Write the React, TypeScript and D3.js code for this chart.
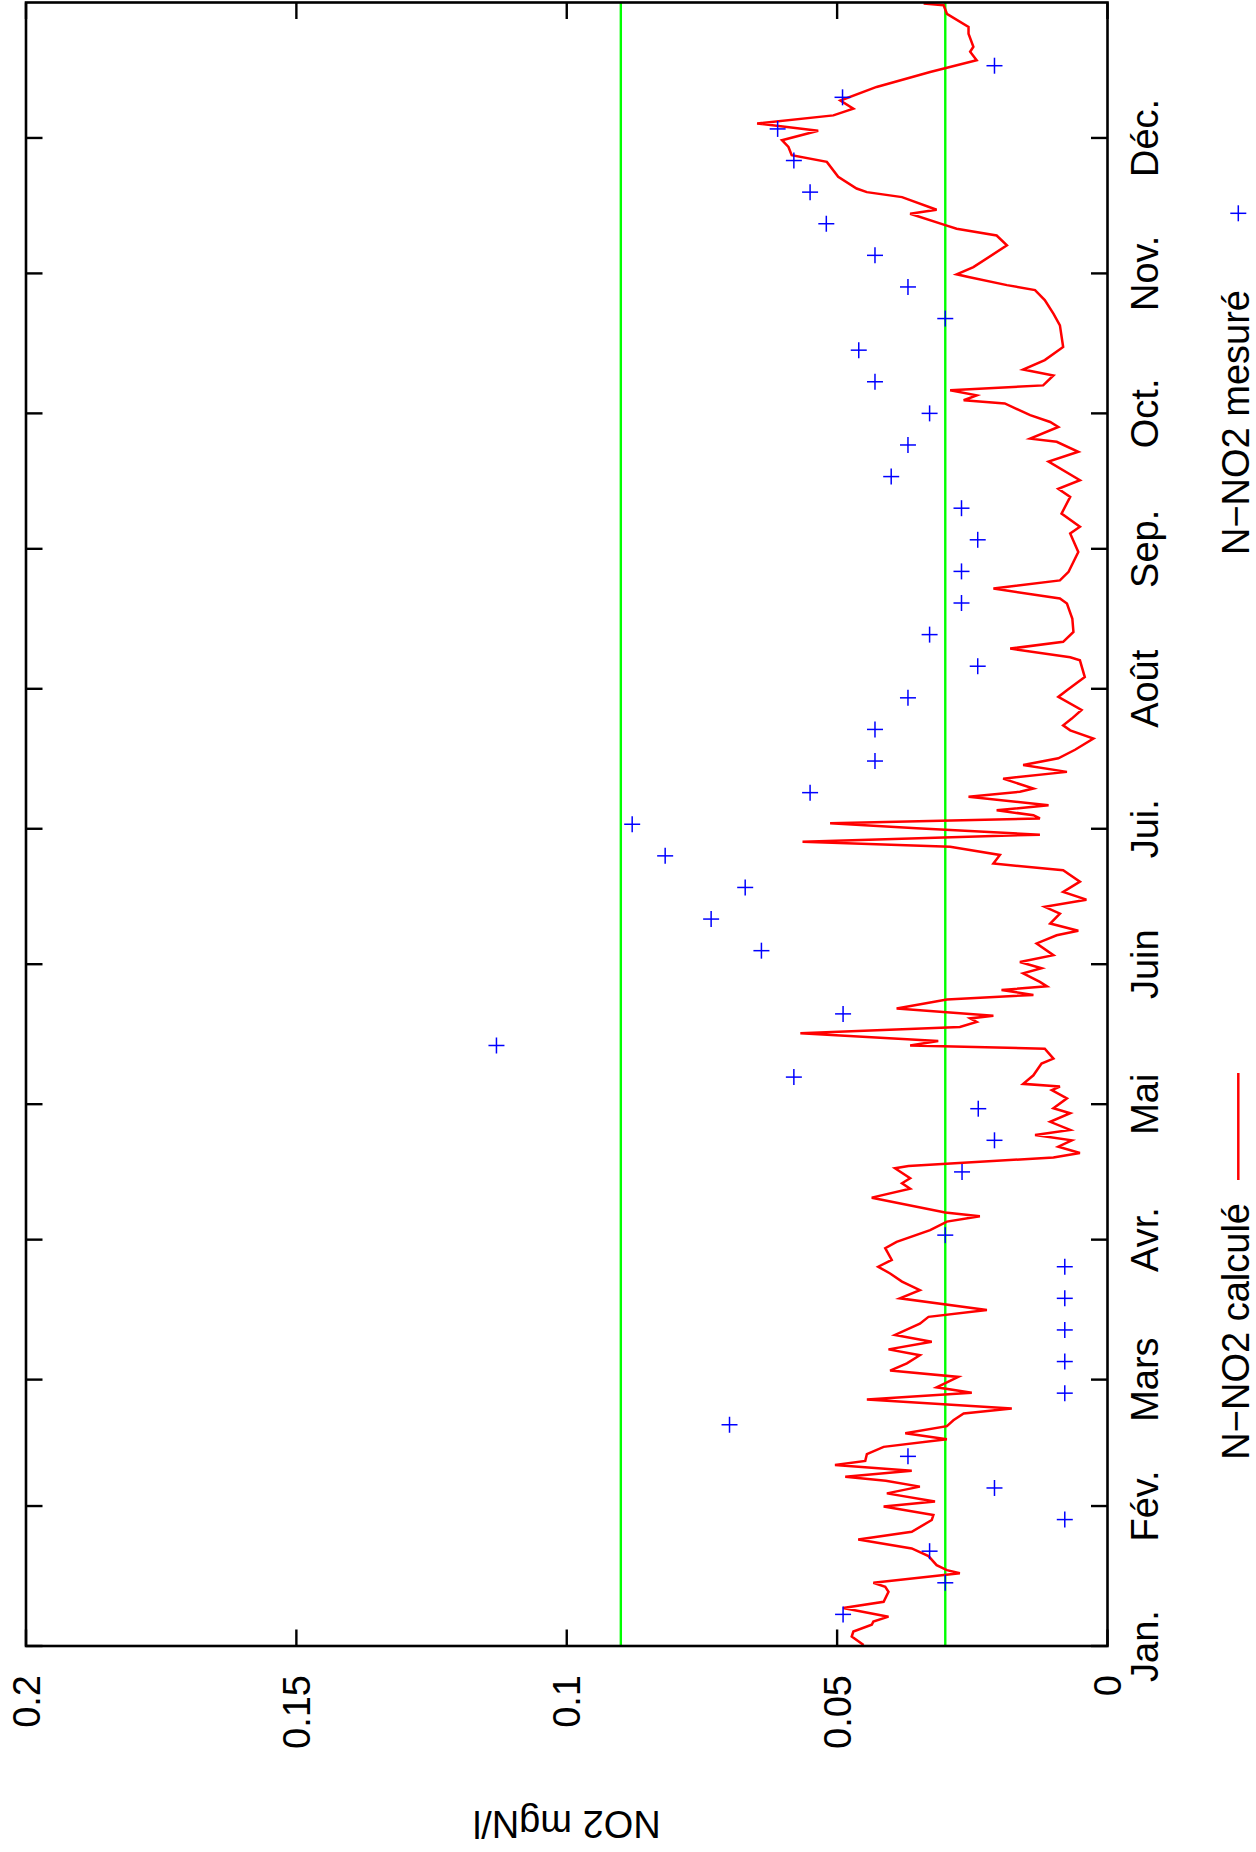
import React from 'react';
import * as d3 from 'd3';

const W = 1256;
const H = 1852;

const monthLabels = ["Jan.", "Fév.", "Mars", "Avr.", "Mai", "Juin", "Jui.", "Août", "Sep.", "Oct.", "Nov.", "Déc."];
const monthStartDays = [0, 31, 59, 90, 120, 151, 181, 212, 243, 273, 304, 334];
const valueTicks = [0, 0.05, 0.1, 0.15, 0.2];
const thresholdValues = [0.03, 0.09];
const yLabel = "NO2 mgN/l";
const seriesNames = ["N\u2212NO2 calculé", "N\u2212NO2 mesuré"];

const calcDays = [
  0.2, 2.1, 3.2, 4.7, 5.4, 6.5, 8.4, 9.8, 12.0, 13.1, 14.0, 16.1, 16.8, 17.9, 19.9, 21.6, 23.6, 25.3, 27.9, 29.0,
  30.9, 32.0, 33.8, 35.3, 36.6, 37.5, 38.8, 40.1, 41.0, 42.5, 44.1, 45.8, 47.1, 48.7, 50.0, 51.5, 52.6, 54.6, 56.1, 57.3,
  59.6, 61.0, 62.6, 64.4, 65.7, 67.4, 68.9, 71.4, 72.9, 74.4, 77.0, 78.8, 80.7, 82.5, 84.0, 85.5, 88.1, 89.5, 92.1, 94.0,
  95.2, 96.0, 99.3, 101.3, 102.5, 103.6, 105.8, 106.3, 108.2, 109.2, 110.6, 112.0, 113.2, 114.3, 116.1, 118.0, 119.1, 121.3, 123.1, 123.9,
  124.5, 126.4, 129.0, 130.1, 132.3, 133.0, 134.0, 135.7, 137.1, 138.2, 139.0, 139.6, 141.2, 143.2, 144.2, 145.3, 146.1, 147.1, 149.0, 150.1,
  151.5, 153.0, 155.6, 157.4, 158.4, 160.0, 162.2, 163.7, 165.3, 167.0, 169.3, 171.8, 173.3, 175.2, 177.0, 178.1, 179.7, 181.1, 182.2, 183.3,
  184.0, 185.1, 186.2, 188.1, 189.2, 189.9, 192.1, 193.6, 195.1, 196.6, 198.5, 201.0, 202.8, 203.9, 205.4, 207.3, 210.2, 211.7, 214.6, 218.3,
  219.0, 220.9, 222.4, 224.6, 227.5, 230.9, 232.0, 234.2, 236.0, 237.9, 242.3, 246.4, 247.9, 250.8, 254.5, 256.3, 258.2, 262.3, 264.5, 266.7,
  267.4, 270.0, 271.1, 272.6, 275.2, 275.9, 277.0, 278.1, 279.2, 281.4, 282.7, 284.8, 287.7, 292.5, 295.1, 298.1, 300.3, 301.4, 303.2, 303.8,
  305.4, 310.2, 312.4, 313.9, 314.7, 317.2, 318.1, 320.9, 322.0, 322.8, 325.4, 328.7, 330.2, 332.0, 333.5, 335.6, 337.2, 339.0, 340.5, 342.3,
  345.3, 348.6, 351.2, 353.1, 354.2, 357.1, 358.6, 361.5, 363.4, 363.8
];
const calcValues = [
  0.0451, 0.0473, 0.0470, 0.0436, 0.0433, 0.0405, 0.0489, 0.0414, 0.0405, 0.0411, 0.0433, 0.0273, 0.0297, 0.0316, 0.0331, 0.0362, 0.0461, 0.0362, 0.0325, 0.0322,
  0.0414, 0.0319, 0.0408, 0.0347, 0.0410, 0.0485, 0.0362, 0.0504, 0.0448, 0.0445, 0.0414, 0.0297, 0.0374, 0.0297, 0.0285, 0.0266, 0.0177, 0.0445, 0.0251, 0.0316,
  0.0276, 0.0402, 0.0371, 0.0347, 0.0405, 0.0325, 0.0393, 0.0347, 0.0331, 0.0223, 0.0384, 0.0347, 0.0380, 0.0402, 0.0424, 0.0399, 0.0411, 0.0390, 0.0328, 0.0297,
  0.0236, 0.0300, 0.0436, 0.0365, 0.0380, 0.0365, 0.0393, 0.0368, 0.0100, 0.0051, 0.0091, 0.0066, 0.0134, 0.0069, 0.0106, 0.0069, 0.0100, 0.0075, 0.0103, 0.0088,
  0.0156, 0.0137, 0.0122, 0.0100, 0.0116, 0.0365, 0.0313, 0.0568, 0.0273, 0.0242, 0.0254, 0.0211, 0.0390, 0.0297, 0.0137, 0.0196, 0.0112, 0.0125, 0.0156, 0.0122,
  0.0162, 0.0100, 0.0131, 0.0094, 0.0054, 0.0106, 0.0088, 0.0116, 0.0039, 0.0082, 0.0051, 0.0082, 0.0211, 0.0199, 0.0291, 0.0564, 0.0125, 0.0353, 0.0513, 0.0125,
  0.0137, 0.0205, 0.0109, 0.0257, 0.0162, 0.0137, 0.0193, 0.0075, 0.0156, 0.0091, 0.0060, 0.0026, 0.0069, 0.0082, 0.0066, 0.0048, 0.0091, 0.0075, 0.0042, 0.0051,
  0.0069, 0.0180, 0.0082, 0.0063, 0.0065, 0.0075, 0.0088, 0.0211, 0.0088, 0.0072, 0.0054, 0.0069, 0.0051, 0.0085, 0.0069, 0.0091, 0.0051, 0.0109, 0.0054, 0.0094,
  0.0143, 0.0091, 0.0106, 0.0143, 0.0190, 0.0266, 0.0242, 0.0291, 0.0119, 0.0100, 0.0156, 0.0116, 0.0082, 0.0088, 0.0100, 0.0116, 0.0134, 0.0186, 0.0257, 0.0279,
  0.0248, 0.0186, 0.0205, 0.0279, 0.0300, 0.0365, 0.0316, 0.0380, 0.0445, 0.0464, 0.0498, 0.0519, 0.0584, 0.0590, 0.0602, 0.0535, 0.0648, 0.0507, 0.0470, 0.0494,
  0.0427, 0.0328, 0.0242, 0.0254, 0.0248, 0.0257, 0.0257, 0.0297, 0.0303, 0.0340
];

const measDays = [
  7, 14, 21, 28, 35, 42, 49, 56, 63, 70, 77, 84, 91, 105, 112, 119, 126, 133, 140, 154, 161, 168, 175, 182,
  189, 196, 203, 210, 217, 224, 231, 238, 245, 252, 259, 266, 273, 280, 287, 294, 301, 308, 315, 322, 329, 336, 343, 350
];
const measValues = [
  0.0489, 0.0300, 0.0329, 0.0079, 0.0209, 0.0369, 0.0699, 0.0079, 0.0079, 0.0079, 0.0079, 0.0079, 0.0300, 0.0269, 0.0209, 0.0239, 0.0580, 0.1130, 0.0489, 0.0640, 0.0733, 0.0670, 0.0818, 0.0879,
  0.0550, 0.0430, 0.0430, 0.0369, 0.0240, 0.0329, 0.0270, 0.0270, 0.0240, 0.0270, 0.0400, 0.0369, 0.0329, 0.0430, 0.0460, 0.0300, 0.0369, 0.0430, 0.0520, 0.0550, 0.0580, 0.0610, 0.0490, 0.0209
];

const FONT = '"Liberation Sans", Arial, Helvetica, sans-serif';
const FS = 38;

export default function App() {
  const left = 26, right = 1107.5, top = 2.5, bottom = 1646;
  const yDay = d3.scaleLinear().domain([0, 364]).range([bottom, top]);
  const xVal = d3.scaleLinear().domain([0, 0.2]).range([right, left]);

  const linePath = d3.line<number>()
    .x((_, i) => xVal(calcValues[i]))
    .y((_, i) => yDay(calcDays[i]))(calcDays) || '';

  const tickLen = 16.5;
  const plus = 8;
  const legendX = 1238.3;
  const legendBase = 1249;

  return (
    <svg width={W} height={H} style={{ position: 'absolute', left: 0, top: 0, background: '#fff' }}
      fontFamily={FONT} fontSize={FS}>
      <rect x={0} y={0} width={W} height={H} fill="#fff" />
      {thresholdValues.map((v, i) => (
        <line key={'th' + i} x1={xVal(v)} x2={xVal(v)} y1={top} y2={bottom} stroke="#00ff00" strokeWidth={2.4} />
      ))}
      <path d={linePath} fill="none" stroke="#ff0000" strokeWidth={2.5} strokeLinejoin="miter" />
      {measDays.map((d, i) => {
        const cx = xVal(measValues[i]);
        const cy = yDay(d);
        return (
          <g key={'m' + i} stroke="#0000ff" strokeWidth={1.5}>
            <line x1={cx - plus} x2={cx + plus} y1={cy} y2={cy} />
            <line x1={cx} x2={cx} y1={cy - plus} y2={cy + plus} />
          </g>
        );
      })}
      <rect x={left} y={top} width={right - left} height={bottom - top} fill="none" stroke="#000" strokeWidth={2.6} />
      {valueTicks.map((v, i) => (
        <g key={'vt' + i} stroke="#000" strokeWidth={2.4}>
          <line x1={xVal(v)} x2={xVal(v)} y1={bottom} y2={bottom - tickLen} />
          <line x1={xVal(v)} x2={xVal(v)} y1={top} y2={top + tickLen} />
        </g>
      ))}
      {valueTicks.map((v, i) => (
        <text key={'vl' + i} transform={`translate(${xVal(v)},1675) rotate(-90)`} textAnchor="end" dy="0.36em" fill="#000">
          {String(v)}
        </text>
      ))}
      {monthStartDays.map((d, i) => (
        <g key={'mt' + i} stroke="#000" strokeWidth={2.4}>
          <line x1={right} x2={right - tickLen} y1={yDay(d)} y2={yDay(d)} />
          <line x1={left} x2={left + tickLen} y1={yDay(d)} y2={yDay(d)} />
        </g>
      ))}
      {monthLabels.map((m, i) => (
        <text key={'ml' + i} transform={`translate(1158,${yDay(monthStartDays[i])}) rotate(-90)`} textAnchor="middle" fill="#000">
          {m}
        </text>
      ))}
      <text transform={`translate(${(left + right) / 2},1811) rotate(180)`} textAnchor="middle" fill="#000">{yLabel}</text>
      <text transform={`translate(${legendBase},1203) rotate(-90)`} textAnchor="end" fill="#000">{seriesNames[0]}</text>
      <line x1={legendX} x2={legendX} y1={1073} y2={1180} stroke="#ff0000" strokeWidth={2.5} />
      <text transform={`translate(${legendBase},290) rotate(-90)`} textAnchor="end" fill="#000">{seriesNames[1]}</text>
      <g stroke="#0000ff" strokeWidth={1.5}>
        <line x1={legendX - plus} x2={legendX + plus} y1={213.3} y2={213.3} />
        <line x1={legendX} x2={legendX} y1={213.3 - plus} y2={213.3 + plus} />
      </g>
    </svg>
  );
}
